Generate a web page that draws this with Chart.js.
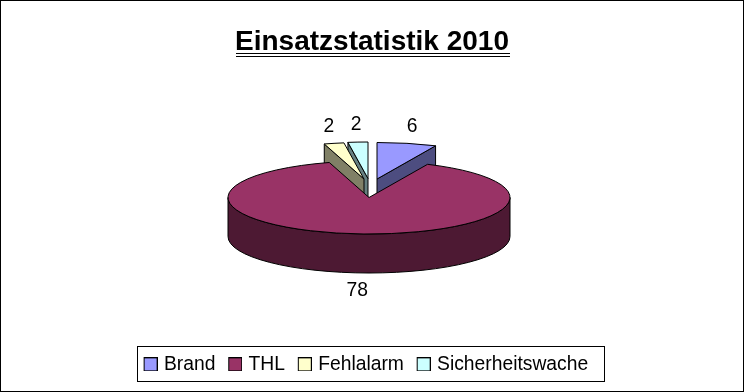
<!DOCTYPE html>
<html>
<head>
<meta charset="utf-8">
<title>Einsatzstatistik 2010</title>
<script src="https://cdn.jsdelivr.net/npm/chart.js@4"></script>
<style>
    html, body { margin: 0; padding: 0; background: #fff; }
    #wrap { width: 744px; height: 392px; }
</style>
</head>
<body>
<div id="wrap"><canvas id="chart" width="744" height="392"></canvas></div>
<script>
const categories = ['Brand', 'THL', 'Fehlalarm', 'Sicherheitswache'];
const values = [6, 78, 2, 2];
const titleText = 'Einsatzstatistik 2010';

const topColors = ['#9999FF', '#993366', '#FFFFCC', '#CCFFFF'];
const sideColors = ['#4D4D80', '#4D1933', '#808066', '#668080'];

// how far each slice is pulled away from the pie centre, on screen
const pullX = [8, 0, -5, -1];
const pullY = [-18.5, 0, -18.5, -19];
const drawOrder = [3, 2, 0, 1]; // back to front, THL covers the foot of the small ones

const FONT = '"Liberation Sans", Arial, sans-serif';
const pie = { x: 369, y: 197.5, rx: 141, ry: 36.5, depth: 39 };

function makeSwatch(color) {
    // 3px empty on the left pushes the 14px box off the legend item's centre
    const c = document.createElement('canvas');
    c.width = 17;
    c.height = 14;
    const g = c.getContext('2d');
    g.fillStyle = color;
    g.fillRect(3, 0, 14, 14);
    g.strokeStyle = '#000';
    g.strokeRect(3.5, 0.5, 13, 13);
    return c;
}

function drawSlice(ctx, arc, i) {
    const x = pie.x + pullX[i];
    const y = pie.y + pullY[i];
    const start = arc.startAngle;
    const end = arc.endAngle;
    ctx.strokeStyle = '#000';
    ctx.lineWidth = 1;

    // outer wall, only the part facing the viewer
    const from = Math.max(start, 0);
    const to = Math.min(end, Math.PI);
    if (from < to) {
        ctx.beginPath();
        ctx.ellipse(x, y, pie.rx, pie.ry, 0, from, to);
        ctx.ellipse(x, y + pie.depth, pie.rx, pie.ry, 0, to, from, true);
        ctx.closePath();
        ctx.fillStyle = sideColors[i];
        ctx.fill();
        ctx.stroke();
    }

    // cut face of the small slices
    if (end - start < Math.PI) {
        const mid = (start + end) / 2;
        const edge = Math.cos(mid) > 0 ? end : start;
        const ex = x + pie.rx * Math.cos(edge);
        const ey = y + pie.ry * Math.sin(edge);
        ctx.beginPath();
        ctx.moveTo(x, y);
        ctx.lineTo(ex, ey);
        ctx.lineTo(ex, ey + pie.depth);
        ctx.lineTo(x, y + pie.depth);
        ctx.closePath();
        ctx.fillStyle = sideColors[i];
        ctx.fill();
        ctx.stroke();
    }

    // top face
    ctx.beginPath();
    ctx.moveTo(x, y);
    ctx.ellipse(x, y, pie.rx, pie.ry, 0, start, end);
    ctx.closePath();
    ctx.fillStyle = topColors[i];
    ctx.fill();
    ctx.stroke();
}

const pie3d = {
    id: 'pie3d',
    afterLayout(chart) {
        // the legend sits a little left of the title in the original
        chart.legend.left -= 6;
        chart.legend.right -= 6;
    },
    beforeDatasetDraw(chart, args) {
        const ctx = chart.ctx;
        const arcs = args.meta.data;
        ctx.save();
        drawOrder.forEach((i) => drawSlice(ctx, arcs[i], i));

        ctx.fillStyle = '#000';
        ctx.font = '19.3px ' + FONT;
        ctx.textAlign = 'center';
        ctx.textBaseline = 'middle';
        arcs.forEach((arc, i) => {
            const mid = (arc.startAngle + arc.endAngle) / 2;
            const dy = Math.sin(mid);
            const lx = pie.x + pullX[i] + 165 * Math.cos(mid);
            const ly = pie.y + pullY[i] + 54 * dy + (dy > 0 ? pie.depth : 0);
            ctx.fillText(values[i], lx, ly);
        });
        ctx.restore();
        return false;
    },
    afterDraw(chart) {
        const ctx = chart.ctx;
        ctx.save();
        ctx.strokeStyle = '#000';
        ctx.lineWidth = 1;
        // chart frame
        ctx.strokeRect(0.5, 0.5, 743, 391);
        // legend frame
        ctx.strokeRect(137.5, 346.5, 467, 35);
        // double underline of the title
        ctx.beginPath();
        ctx.moveTo(236, 53.5);
        ctx.lineTo(510, 53.5);
        ctx.moveTo(236, 56.5);
        ctx.lineTo(510, 56.5);
        ctx.stroke();
        ctx.restore();
    }
};

const swatches = topColors.map(makeSwatch);

new Chart(document.getElementById('chart'), {
    type: 'pie',
    data: {
        labels: categories,
        datasets: [{
            data: values,
            backgroundColor: topColors,
        }]
    },
    options: {
        responsive: false,
        animation: false,
        layout: { padding: { top: 16, bottom: 8 } },
        plugins: {
            tooltip: { enabled: false },
            title: {
                display: true,
                text: titleText,
                color: '#000',
                font: { family: FONT, size: 28, weight: 'bold' },
                padding: { top: 9, bottom: 9 },
            },
            legend: {
                position: 'bottom',
                labels: {
                    color: '#000',
                    font: { family: FONT, size: 19.3 },
                    usePointStyle: true,
                    pointStyleWidth: 10.5,
                    padding: 13,
                    generateLabels: () => categories.map((name, i) => ({
                        text: name,
                        fillStyle: topColors[i],
                        pointStyle: swatches[i],
                        index: i,
                    })),
                },
            },
        },
    },
    plugins: [pie3d],
});
</script>
</body>
</html>
